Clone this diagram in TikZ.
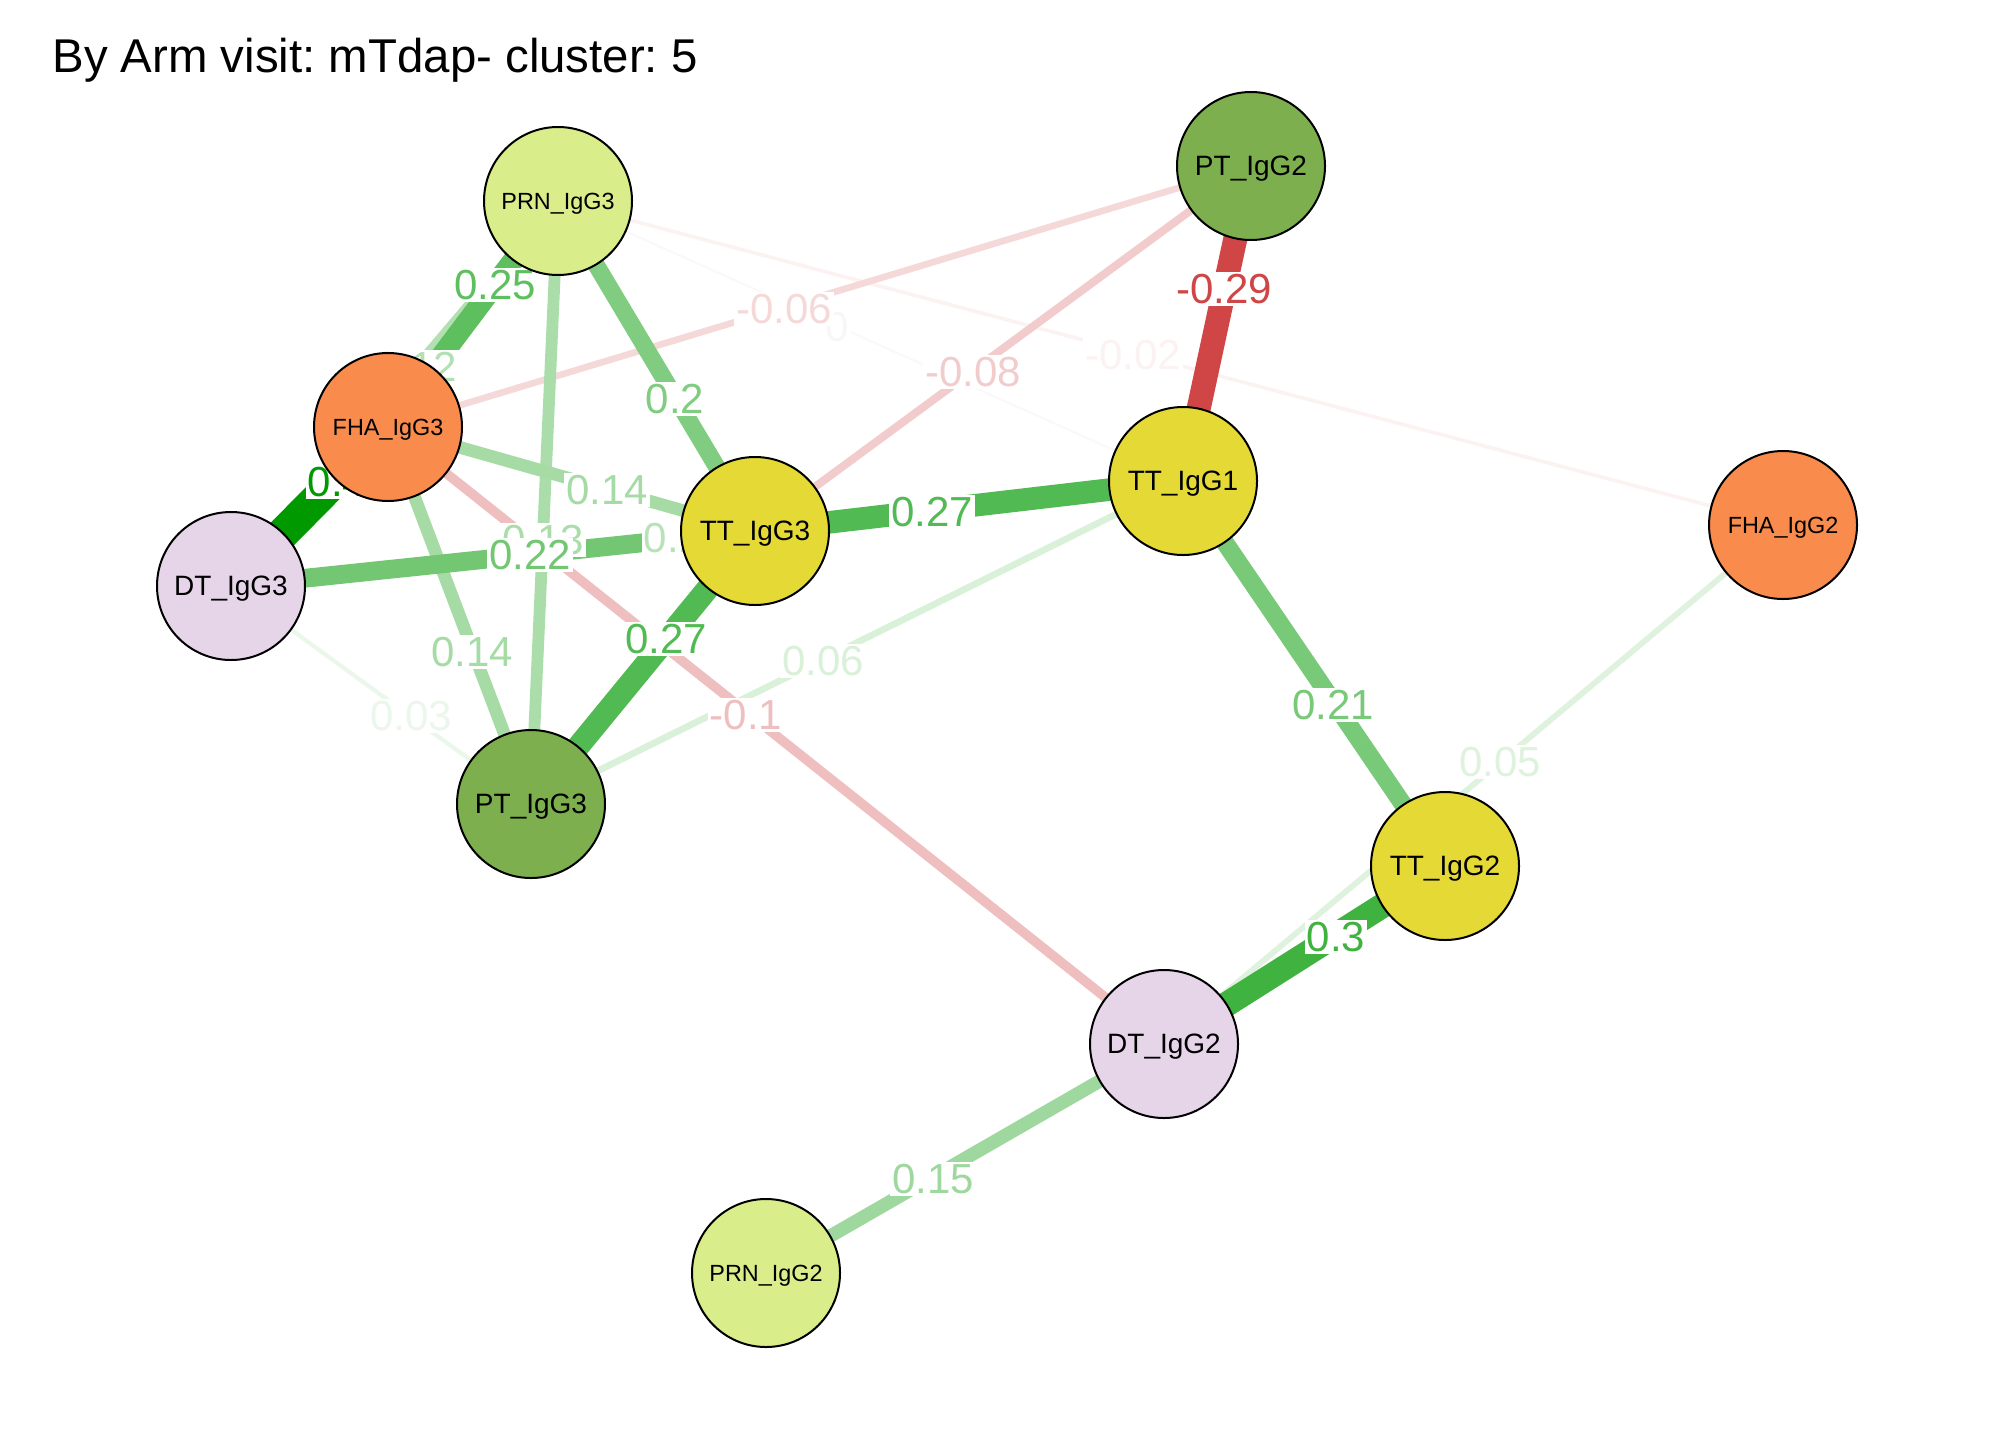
\documentclass[tikz,border=0pt]{standalone}
\usepackage{fontspec}
\setmainfont{Liberation Sans}
\frenchspacing
\pgfdeclarelayer{bg}
\pgfdeclarelayer{edges}
\pgfdeclarelayer{labels}
\pgfsetlayers{bg,edges,labels,main}
\definecolor{posc}{HTML}{009900}
\definecolor{negc}{HTML}{BF0000}
\definecolor{cPRN}{HTML}{D9ED8B}
\definecolor{cPT}{HTML}{7EAF4E}
\definecolor{cFHA}{HTML}{F98B4D}
\definecolor{cTT}{HTML}{E5DA35}
\definecolor{cDT}{HTML}{E6D5E8}
\tikzset{
  nd/.style={circle, draw=black, line width=1pt, minimum size=74pt, inner sep=0pt, text depth=0pt, fill=#1},
  nbig/.style={font=\fontsize{14}{14}\selectfont},
  nsmall/.style={font=\fontsize{11.7}{12}\selectfont},
  ed/.style 2 args={draw=#1, line width=#2pt},
  el/.style={fill=white, inner sep=1pt, text=#1, font=\fontsize{21}{21}\selectfont},
}
\begin{document}
\begin{tikzpicture}[x=0.5pt,y=-0.5pt]
\useasboundingbox (0,0) rectangle (2016,1440);
\begin{pgfonlayer}{bg}
\fill[white] (0,0) rectangle (2016,1440);
\end{pgfonlayer}
\node[anchor=base west, inner sep=0pt, font=\fontsize{23.7}{24}\selectfont] (title) at (52,72) {By Arm visit: mTdap- cluster: 5};

% nodes
\node[nd=cPRN, nsmall] (prn3) at (558,201) {PRN\_IgG3};
\node[nd=cPT, nbig] (pt2) at (1251,166) {PT\_IgG2};
\node[nd=cFHA, nsmall] (fha3) at (388,427) {FHA\_IgG3};
\node[nd=cTT, nbig] (tt1) at (1183,481) {TT\_IgG1};
\node[nd=cFHA, nsmall] (fha2) at (1783,525) {FHA\_IgG2};
\node[nd=cDT, nbig] (dt3) at (231,586) {DT\_IgG3};
\node[nd=cTT, nbig] (tt3) at (755,531) {TT\_IgG3};
\node[nd=cPT, nbig] (pt3) at (531,804) {PT\_IgG3};
\node[nd=cTT, nbig] (tt2) at (1445,866) {TT\_IgG2};
\node[nd=cDT, nbig] (dt2) at (1164,1044) {DT\_IgG2};
\node[nd=cPRN, nsmall] (prn2) at (766,1273) {PRN\_IgG2};

\begin{pgfonlayer}{edges}
\draw[ed={gray!5}{1}] (prn3.center) -- (tt1.center);
\draw[ed={negc!5!white}{1.8}] (prn3.center) -- (fha2.center);
\draw[ed={posc!8!white}{2.1}] (dt3.center) -- (pt3.center);
\draw[ed={posc!13!white}{2.9}] (fha2.center) -- (dt2.center);
\draw[ed={negc!15!white}{3.3}] (fha3.center) -- (pt2.center);
\draw[ed={posc!15!white}{3.3}] (pt3.center) -- (tt1.center);
\draw[ed={negc!20!white}{4}] (tt3.center) -- (pt2.center);
\draw[ed={negc!25!white}{4.8}] (fha3.center) -- (dt2.center);
\draw[ed={posc!28!white}{5.2}] (dt3.center) -- (tt1.center);
\draw[ed={posc!30!white}{5.5}] (dt3.center) -- (prn3.center);
\draw[ed={posc!33!white}{5.9}] (prn3.center) -- (pt3.center);
\draw[ed={posc!35!white}{6.3}] (fha3.center) -- (tt3.center);
\draw[ed={posc!35!white}{6.3}] (fha3.center) -- (pt3.center);
\draw[ed={posc!38!white}{6.7}] (dt2.center) -- (prn2.center);
\draw[ed={posc!50!white}{8.6}] (prn3.center) -- (tt3.center);
\draw[ed={posc!53!white}{9}] (tt1.center) -- (tt2.center);
\draw[ed={posc!55!white}{9.4}] (dt3.center) -- (tt3.center);
\draw[ed={posc!63!white}{10.5}] (fha3.center) -- (prn3.center);
\draw[ed={posc!68!white}{11.3}] (tt3.center) -- (tt1.center);
\draw[ed={posc!68!white}{11.3}] (tt3.center) -- (pt3.center);
\draw[ed={negc!73!white}{12}] (pt2.center) -- (tt1.center);
\draw[ed={posc!75!white}{12.4}] (tt2.center) -- (dt2.center);
\draw[ed={posc}{16.2}] (fha3.center) -- (dt3.center);
\end{pgfonlayer}

\begin{pgfonlayer}{labels}
\node[el={gray!6}] (l01) at (837,327) {0};
\node[el={negc!5!white}] (l02) at (1133,355) {-0.02};
\node[el={posc!8!white}] (l03) at (411,716) {0.03};
\node[el={posc!13!white}] (l04) at (1500,762) {0.05};
\node[el={negc!15!white}] (l05) at (784,309) {-0.06};
\node[el={posc!15!white}] (l06) at (823,661) {0.06};
\node[el={negc!20!white}] (l07) at (973,372) {-0.08};
\node[el={negc!25!white}] (l08) at (746,715) {-0.1};
\node[el={posc!28!white}] (l09) at (683,538) {0.11};
\node[el={posc!30!white}] (l10) at (416,367) {0.12};
\node[el={posc!33!white}] (l11) at (543,540) {0.13};
\node[el={posc!35!white}] (l12) at (607,490) {0.14};
\node[el={posc!35!white}] (l13) at (472,652) {0.14};
\node[el={posc!38!white}] (l14) at (933,1179) {0.15};
\node[el={posc!50!white}] (l15) at (675,399) {0.2};
\node[el={posc!53!white}] (l16) at (1333,705) {0.21};
\node[el={posc!55!white}] (l17) at (530,555) {0.22};
\node[el={posc!63!white}] (l18) at (495,285) {0.25};
\node[el={posc!68!white}] (l19) at (932,512) {0.27};
\node[el={posc!68!white}] (l20) at (666,639) {0.27};
\node[el={negc!73!white}] (l21) at (1224,289) {-0.29};
\node[el={posc!75!white}] (l22) at (1336,937) {0.3};
\node[el={posc}] (l23) at (337,482) {0.4};
\end{pgfonlayer}
\end{tikzpicture}
\end{document}
